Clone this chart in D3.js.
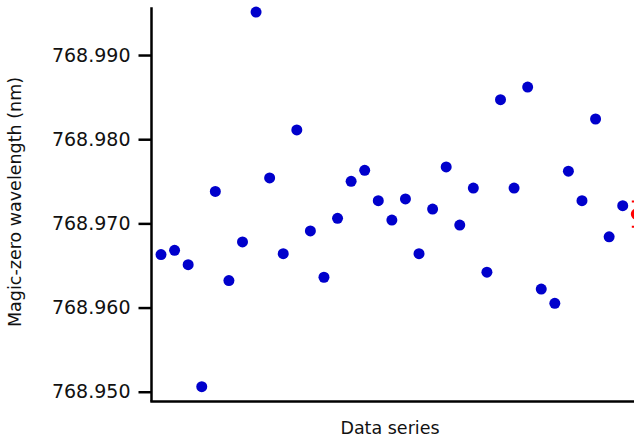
<!DOCTYPE html>
<html>
<head>
<meta charset="utf-8">
<script src="https://cdn.jsdelivr.net/npm/d3@7"></script>
<style>
  body { margin: 0; background: #fff; }
  svg { display: block; font-family: "DejaVu Sans", sans-serif; }
</style>
</head>
<body>
<script>
// measured magic-zero wavelengths (nm), one per data series
var values = [
  768.9663, 768.9668, 768.9651, 768.9506, 768.9738, 768.9632, 768.9678,
  768.9951, 768.9754, 768.9664, 768.9811, 768.9691, 768.9636, 768.9706,
  768.9750, 768.9763, 768.9727, 768.9704, 768.9729, 768.9664, 768.9717,
  768.9767, 768.9698, 768.9742, 768.9642, 768.9847, 768.9742, 768.9862,
  768.9622, 768.9605, 768.9762, 768.9727, 768.9824, 768.9684, 768.9721
];
// weighted mean and its error, drawn after the last series
var meanValue = [768.9711];
var meanError = [0.0015];
var yTicks = [768.950, 768.960, 768.970, 768.980, 768.990];

var width = 634,
    height = 437;

var svg = d3.select("body").append("svg")
    .attr("width", width)
    .attr("height", height);

var x = d3.scaleLinear()
    .domain([0.3, values.length + 1])
    .range([151.5, 636.3]);

var y = d3.scaleLinear()
    .domain([768.94884, 768.99567])
    .range([401.5, 7.3]);

// y axis
var yAxis = d3.axisLeft(y)
    .tickValues(yTicks)
    .tickSize(13)
    .tickPadding(8)
    .tickFormat(d3.format(".3f"));

var gy = svg.append("g")
    .attr("transform", "translate(151.5,0)")
    .call(yAxis);
gy.select(".domain")
    .attr("d", "M0," + y.range()[1] + "V" + y.range()[0])
    .attr("stroke", "#000")
    .attr("stroke-width", 2.5);
gy.selectAll(".tick line")
    .attr("stroke", "#000")
    .attr("stroke-width", 2.5);
gy.selectAll(".tick text")
    .attr("fill", "#111")
    .style("font-size", "19px")
    .style("font-family", "DejaVu Sans");

// x axis (no ticks)
svg.append("line")
    .attr("x1", 150.3)
    .attr("x2", width)
    .attr("y1", 401.5)
    .attr("y2", 401.5)
    .attr("stroke", "#000")
    .attr("stroke-width", 2.5);

// points
svg.append("g").selectAll("circle")
    .data(values)
  .enter().append("circle")
    .attr("cx", function(d, i) { return x(i + 1); })
    .attr("cy", function(d) { return y(d); })
    .attr("r", 5.5)
    .attr("fill", "#0000cc");

// mean with error bar
var mx = x(values.length + 1);
var mean = svg.append("g").attr("stroke", "#ff0000").attr("stroke-width", 2);
mean.append("line")
    .attr("x1", mx).attr("x2", mx)
    .attr("y1", y(meanValue[0] - meanError[0]))
    .attr("y2", y(meanValue[0] + meanError[0]));
[-1, 1].forEach(function(s) {
  mean.append("line")
      .attr("x1", mx - 4.5).attr("x2", mx + 4.5)
      .attr("y1", y(meanValue[0] + s * meanError[0]))
      .attr("y2", y(meanValue[0] + s * meanError[0]));
});
svg.append("circle")
    .attr("cx", mx)
    .attr("cy", y(meanValue[0]))
    .attr("r", 5.5)
    .attr("fill", "#ff0000");

// axis titles
svg.append("text")
    .attr("transform", "translate(21,202) rotate(-90)")
    .attr("text-anchor", "middle")
    .attr("fill", "#111")
    .style("font-size", "17.5px")
    .text("Magic-zero wavelength (nm)");

svg.append("text")
    .attr("x", 390)
    .attr("y", 434)
    .attr("text-anchor", "middle")
    .attr("fill", "#111")
    .style("font-size", "17.5px")
    .text("Data series");
</script>
</body>
</html>
